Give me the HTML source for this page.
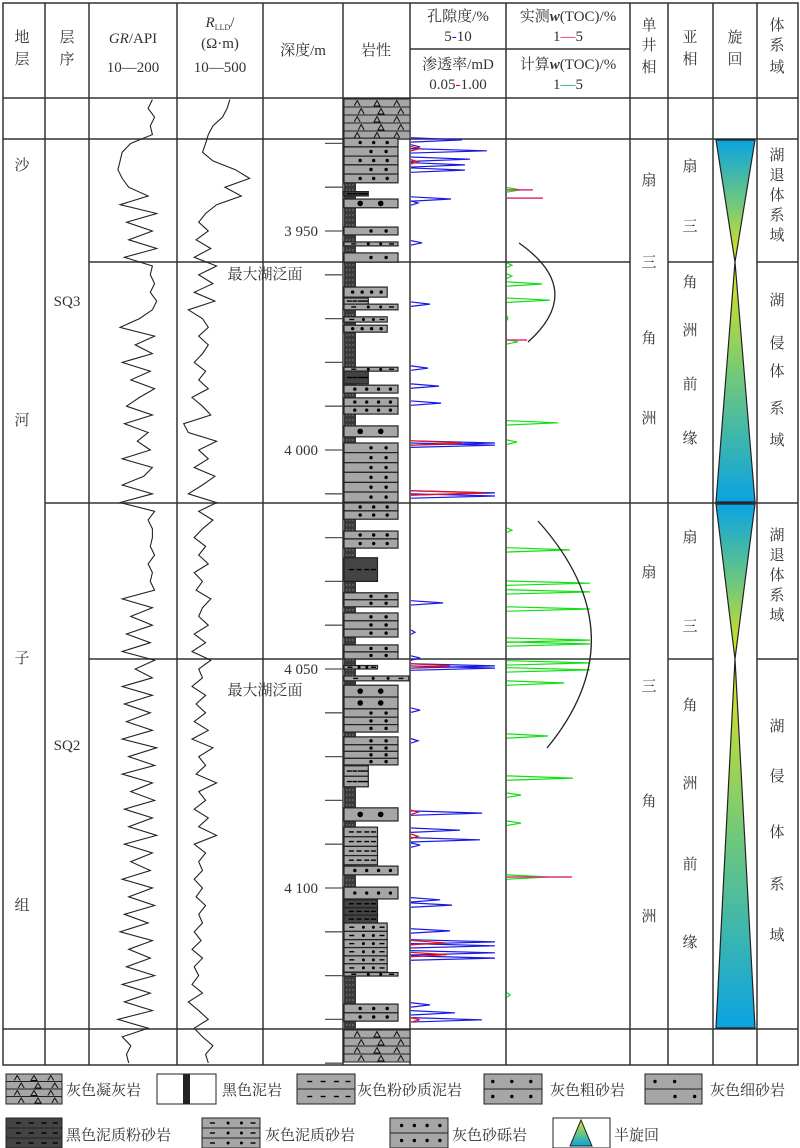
<!DOCTYPE html>
<html><head><meta charset="utf-8">
<style>
html,body{margin:0;padding:0;background:#fff;}
svg{display:block;}
text{font-family:"Liberation Serif","Noto Serif CJK SC",serif;fill:#333;}
</style></head>
<body>
<svg id="fig" width="800" height="1148" viewBox="0 0 800 1148" xmlns="http://www.w3.org/2000/svg">
<defs>
<linearGradient id="gDown" x1="0" y1="0" x2="0" y2="1">
<stop offset="0" stop-color="#0aa3e2"/><stop offset="0.5" stop-color="#6cc77f"/><stop offset="1" stop-color="#e2e41a"/>
</linearGradient>
<linearGradient id="gUp" x1="0" y1="1" x2="0" y2="0">
<stop offset="0" stop-color="#0aa3e2"/><stop offset="0.5" stop-color="#6cc77f"/><stop offset="1" stop-color="#e2e41a"/>
</linearGradient>
</defs>
<g id="grid" stroke="#333" stroke-width="1.5" fill="none">
<rect x="3" y="3" width="795" height="1062"/>
<line x1="45" y1="3" x2="45" y2="1065"/><line x1="89" y1="3" x2="89" y2="1065"/>
<line x1="177" y1="3" x2="177" y2="1065"/><line x1="263" y1="3" x2="263" y2="1065"/>
<line x1="343" y1="3" x2="343" y2="1065"/><line x1="410" y1="3" x2="410" y2="1065"/>
<line x1="506" y1="3" x2="506" y2="1065"/><line x1="630" y1="3" x2="630" y2="1065"/>
<line x1="668" y1="3" x2="668" y2="1065"/><line x1="713" y1="3" x2="713" y2="1065"/>
<line x1="757" y1="3" x2="757" y2="1065"/>
<line x1="410" y1="49" x2="630" y2="49"/>
<line x1="3" y1="98" x2="798" y2="98"/><line x1="3" y1="139" x2="798" y2="139"/>
<line x1="89" y1="262" x2="630" y2="262"/><line x1="668" y1="262" x2="713" y2="262"/><line x1="757" y1="262" x2="798" y2="262"/>
<line x1="45" y1="503" x2="798" y2="503"/>
<line x1="89" y1="659" x2="630" y2="659"/><line x1="668" y1="659" x2="713" y2="659"/><line x1="757" y1="659" x2="798" y2="659"/>
<line x1="3" y1="1029" x2="798" y2="1029"/>
</g>
<g font-size="15">
<text x="22" y="42" text-anchor="middle">地</text>
<text x="22" y="64" text-anchor="middle">层</text>
<text x="67" y="42" text-anchor="middle">层</text>
<text x="67" y="64" text-anchor="middle">序</text>
<text x="133" y="43" text-anchor="middle"><tspan font-style="italic">GR</tspan>/API</text>
<text x="133" y="72" text-anchor="middle">10—200</text>
<text x="220" y="27" text-anchor="middle"><tspan font-style="italic">R</tspan><tspan font-size="8" dy="3">LLD</tspan><tspan dy="-3">/</tspan></text>
<text x="220" y="48" text-anchor="middle">(Ω·m)</text>
<text x="220" y="72" text-anchor="middle">10—500</text>
<text x="303" y="55" text-anchor="middle">深度/m</text>
<text x="376" y="55" text-anchor="middle">岩性</text>
<text x="458" y="21" text-anchor="middle">孔隙度/%</text>
<text x="458" y="41" text-anchor="middle">5<tspan fill="#1a1aff">-</tspan>10</text>
<text x="458" y="69" text-anchor="middle">渗透率/mD</text>
<text x="458" y="89" text-anchor="middle">0.05<tspan fill="#f00">-</tspan>1.00</text>
<text x="568" y="21" text-anchor="middle">实测<tspan font-style="italic" font-weight="bold">w</tspan>(TOC)/%</text>
<text x="568" y="41" text-anchor="middle">1<tspan fill="#e0107a">—</tspan>5</text>
<text x="568" y="69" text-anchor="middle">计算<tspan font-style="italic" font-weight="bold">w</tspan>(TOC)/%</text>
<text x="568" y="89" text-anchor="middle">1<tspan fill="#10a050">—</tspan>5</text>
<text x="649" y="30" text-anchor="middle">单</text>
<text x="649" y="50" text-anchor="middle">井</text>
<text x="649" y="72" text-anchor="middle">相</text>
<text x="690" y="42" text-anchor="middle">亚</text>
<text x="690" y="64" text-anchor="middle">相</text>
<text x="735" y="42" text-anchor="middle">旋</text>
<text x="735" y="64" text-anchor="middle">回</text>
<text x="777" y="30" text-anchor="middle">体</text>
<text x="777" y="50" text-anchor="middle">系</text>
<text x="777" y="72" text-anchor="middle">域</text>
</g>
<g font-size="15">
<text x="22" y="170" text-anchor="middle">沙</text>
<text x="22" y="425" text-anchor="middle">河</text>
<text x="22" y="663" text-anchor="middle">子</text>
<text x="22" y="910" text-anchor="middle">组</text>
<text x="67" y="306" text-anchor="middle">SQ3</text>
<text x="67" y="750" text-anchor="middle">SQ2</text>
<text x="649" y="185" text-anchor="middle">扇</text>
<text x="649" y="267" text-anchor="middle">三</text>
<text x="649" y="343" text-anchor="middle">角</text>
<text x="649" y="423" text-anchor="middle">洲</text>
<text x="649" y="577" text-anchor="middle">扇</text>
<text x="649" y="691" text-anchor="middle">三</text>
<text x="649" y="806" text-anchor="middle">角</text>
<text x="649" y="921" text-anchor="middle">洲</text>
<text x="690" y="171" text-anchor="middle">扇</text>
<text x="690" y="231" text-anchor="middle">三</text>
<text x="690" y="287" text-anchor="middle">角</text>
<text x="690" y="335" text-anchor="middle">洲</text>
<text x="690" y="389" text-anchor="middle">前</text>
<text x="690" y="443" text-anchor="middle">缘</text>
<text x="690" y="542" text-anchor="middle">扇</text>
<text x="690" y="631" text-anchor="middle">三</text>
<text x="690" y="710" text-anchor="middle">角</text>
<text x="690" y="788" text-anchor="middle">洲</text>
<text x="690" y="869" text-anchor="middle">前</text>
<text x="690" y="947" text-anchor="middle">缘</text>
<text x="777" y="160" text-anchor="middle">湖</text>
<text x="777" y="180" text-anchor="middle">退</text>
<text x="777" y="200" text-anchor="middle">体</text>
<text x="777" y="220" text-anchor="middle">系</text>
<text x="777" y="240" text-anchor="middle">域</text>
<text x="777" y="305" text-anchor="middle">湖</text>
<text x="777" y="348" text-anchor="middle">侵</text>
<text x="777" y="376" text-anchor="middle">体</text>
<text x="777" y="413" text-anchor="middle">系</text>
<text x="777" y="445" text-anchor="middle">域</text>
<text x="777" y="540" text-anchor="middle">湖</text>
<text x="777" y="560" text-anchor="middle">退</text>
<text x="777" y="580" text-anchor="middle">体</text>
<text x="777" y="600" text-anchor="middle">系</text>
<text x="777" y="620" text-anchor="middle">域</text>
<text x="777" y="731" text-anchor="middle">湖</text>
<text x="777" y="781" text-anchor="middle">侵</text>
<text x="777" y="837" text-anchor="middle">体</text>
<text x="777" y="889" text-anchor="middle">系</text>
<text x="777" y="940" text-anchor="middle">域</text>
<text x="265" y="279" text-anchor="middle">最大湖泛面</text>
<text x="265" y="695" text-anchor="middle">最大湖泛面</text>
</g>
<g stroke="#222" stroke-width="1.2">
<polygon points="716,140 755,140 735,262" fill="url(#gDown)"/>
<polygon points="735,262 716,502 755,502" fill="url(#gUp)"/>
<polygon points="716,504 755,504 735,659" fill="url(#gDown)"/>
<polygon points="735,659 716,1028 755,1028" fill="url(#gUp)"/>
</g>
<g id="plot"></g>
<g id="legend" font-size="15"></g>
</svg>
<script>
// ---------- data ----------
const depthStart = 3920;
const depthStep = 2;
const grValues = [150,140,155,145,150,100,80,75,70,80,
 95,140,75,160,90,150,95,160,85,150,
 145,155,145,160,150,120,75,155,110,150,
 80,145,100,155,120,90,150,85,140,115,
 145,80,150,130,80,150,75,155,140,150,
 150,145,155,140,150,145,155,80,150,100,
 150,90,145,80,155,110,150,80,150,85,
 145,90,150,80,160,95,155,80,150,100,
 155,85,150,95,160,85,150,100,145,80,
 150,95,155,85,140,75,150,95,145,90,
 155,80,145,85,150,70,140,80,100,90,95];
const rllValues = [115,100,80,50,40,35,30,50,150,300,
 90,200,60,35,25,40,22,45,20,60,
 25,50,20,55,15,30,40,25,40,30,
 20,35,25,40,18,30,45,12,15,60,
 25,40,20,55,30,15,60,25,50,30,
 20,35,25,40,20,30,22,45,30,25,
 40,20,35,18,45,25,30,18,35,22,
 35,20,40,18,50,25,35,22,60,25,
 35,20,40,25,60,20,35,25,30,20,
 30,22,35,25,30,20,28,18,30,20,
 25,18,30,15,25,40,20,30,50,35,40];
const porDepths = [3929.2,3930.8,3931.7,3933.6,3934.9,3936.1,3942.7,3943.6,3952.7,3966.7,3981.3,3985.4,3989.3,3998.4,3998.9,4009.8,4010.5,4034.9,4041.6,4047.5,4049.3,4049.8,4059.4,4066.4,4082.9,4086.8,4089.0,4090.2,4102.7,4103.9,4109.8,4112.3,4113.2,4114.8,4116.0,4126.7,4128.5,4130.1];
const porValues = [7.98,5.48,9.46,8.45,8.15,8.15,7.32,5.36,5.6,6.07,5.95,6.61,6.73,9.94,9.94,9.94,9.94,6.85,5.18,5.48,9.94,9.94,5.48,5.36,9.17,7.86,9.05,5.48,6.67,7.38,7.26,9.94,9.94,9.94,9.94,6.07,7.56,9.17];
const permDepths = [3931.2,3934.2,3998.4,4009.8,4049.3,4082.7,4088.2,4112.5,4115.2,4130.1];
const permValues = [0.066,0.062,0.297,0.68,0.194,0.062,0.062,0.162,0.174,0.066];
const tocCalcDepths = [3940.6,3957.8,3960.3,3962.1,3965.8,3969.9,3975.3,3993.8,3998.2,4018.3,4022.8,4030.4,4032.4,4036.3,4043.4,4044.3,4048.6,4050.2,4053.2,4065.3,4074.9,4078.8,4085.2,4097.5,4124.4];
const tocCalcValues = [1.46,1.16,1.16,2.15,2.41,1.03,1.36,2.67,1.33,1.16,3.06,3.72,3.72,3.72,3.72,3.72,3.72,3.72,2.88,2.34,3.16,1.46,1.46,2.34,1.1];
const tocMeasDepths = [3940.6,3942.5,3974.9,4097.5];
const tocMeasValues = [1.85,2.18,1.66,3.13];
const tickDepths = [3930,3940,3950,3960,3970,3980,3990,4000,4010,4020,4030,4040,4050,4060,4070,4080,4090,4100,4110,4120,4130,4140];
const depthLabels = [[3950,"3 950"],[4000,"4 000"],[4050,"4 050"],[4100,"4 100"]];
const layerTops = [3928.8,3930.8,3932.9,3934.9,3937.0,3941.0,3942.7,3949.1,3952.5,3955.0,3962.8,3965.3,3966.7,3969.6,3971.5,3981.1,3982.0,3985.2,3988.1,3990.0,3994.5,3998.4,4000.6,4002.9,4005.1,4007.4,4009.6,4012.1,4013.9,4018.5,4020.3,4024.6,4032.6,4034.2,4037.2,4039.0,4040.9,4044.5,4046.1,4049.2,4051.6,4053.7,4056.4,4059.1,4061.0,4062.7,4065.5,4067.3,4068.8,4070.4,4072.1,4074.5,4081.7,4086.1,4088.3,4090.5,4092.6,4095.0,4099.8,4102.7,4104.5,4106.2,4108.0,4109.9,4111.8,4113.6,4115.5,4117.3,4119.3,4126.5,4128.5];
const layerBottoms = [3930.8,3932.9,3934.9,3937.0,3939.0,3942.0,3944.7,3950.9,3953.4,3957.1,3965.1,3966.7,3968.0,3970.8,3973.1,3982.0,3984.9,3987.0,3990.0,3991.8,3997.0,4000.6,4002.9,4005.1,4007.4,4009.6,4011.9,4013.9,4015.8,4020.3,4022.4,4030.0,4034.2,4035.8,4039.0,4040.9,4042.7,4046.1,4047.7,4050.0,4052.7,4056.4,4059.1,4061.0,4062.7,4064.4,4067.3,4068.8,4070.4,4071.9,4074.5,4076.9,4084.7,4088.3,4090.5,4092.6,4094.7,4097.0,4102.5,4104.5,4106.2,4108.0,4109.9,4111.8,4113.6,4115.5,4117.3,4119.2,4120.1,4128.5,4130.4];
const layerTypes = ["cs","fs","cs","fs","cs","dm","pb","fs","ms","fs","gr","sm","ms","ms","gr","ms","dm","gr","gr","gr","pb","fs","fs","fs","fs","fs","fs","cs","cs","cs","cs","dm","fs","fs","fs","fs","fs","fs","fs","ms","ms","pb","pb","fs","fs","fs","fs","fs","fs","fs","sm","sm","pb","sm","sm","sm","sm","gr","gr","dm","dm","dm","ms","ms","ms","ms","ms","ms","ms","cs","cs"];
const layerWidths = [1,1,1,1,1,0.45,1,1,1,1,0.8,0.45,1,0.8,0.8,1,0.45,1,1,1,1,1,1,1,1,1,1,1,1,1,1,0.62,1,1,1,1,1,1,1,0.62,1.2,1,1,1,1,1,1,1,1,1,0.45,0.45,1,0.62,0.62,0.62,0.62,1,1,0.62,0.62,0.62,0.8,0.8,0.8,0.8,0.8,0.8,1,1,1];

// ---------- scales ----------
const yD = d => 231 + (d - 3950) * 4.38;
const xGR = v => 92 + (v - 10) / 190 * 82;
const xR = v => 180 + Math.log10(v / 10) / Math.log10(50) * 80;
const xPor = v => 412 + (v - 5) / 5 * 84;
const xPerm = v => 412 + Math.log(v / 0.05) / Math.log(20) * 84;
const xTOC = v => 507 + (v - 1) / 4 * 122;

const NS = "http://www.w3.org/2000/svg";
const plot = document.getElementById("plot");
function mk(tag, attrs, parent) {
  const e = document.createElementNS(NS, tag);
  for (const k in attrs) e.setAttribute(k, attrs[k]);
  (parent || plot).appendChild(e);
  return e;
}
const clampY = y => Math.max(99, Math.min(1063, y));

// GR curve
let pts = grValues.map((v, i) => xGR(v).toFixed(1) + "," + clampY(yD(depthStart + i * depthStep)).toFixed(1)).join(" ");
const gr = mk("polyline", {points: pts, fill: "none", stroke: "#222", "stroke-width": 1.1});


pts = rllValues.map((v, i) => xR(v).toFixed(1) + "," + clampY(yD(depthStart + i * depthStep)).toFixed(1)).join(" ");
const rl = mk("polyline", {points: pts, fill: "none", stroke: "#222", "stroke-width": 1.1});



// depth ticks
tickDepths.forEach(d => {
  const t = mk("line", {x1: 325, x2: 343, y1: yD(d), y2: yD(d), stroke: "#555", "stroke-width": 1.3});
  
  
});
depthLabels.forEach(l => {
  const t = mk("text", {x: 318, y: yD(l[0]) + 5, "text-anchor": "end", "font-size": 15});
  t.textContent = l[1];
  
  
});

// lithology
const lith = mk("g", {});


function tuff(x, y, w, h, parent) {
  mk("rect", {x: x, y: y, width: w, height: h, fill: "#a6a6a6", stroke: "#222", "stroke-width": 1}, parent);
  const rows = Math.round(h / 8);
  for (let r = 0; r < rows; r++) {
    const yy = y + r * h / rows;
    mk("line", {x1: x, x2: x + w, y1: yy, y2: yy, stroke: "#222", "stroke-width": 1}, parent);
    for (let c = 0; c < 3; c++) {
      const cx = x + w * (0.2 + c * 0.3) + (r % 2 ? 4 : 0);
      mk("path", {d: `M${cx - 3},${yy + h / rows - 1} L${cx},${yy + 1.5} L${cx + 3},${yy + h / rows - 1}` + (c === 1 ? " Z" : ""), fill: "none", stroke: "#111", "stroke-width": 1}, parent);
    }
  }
}
const tTop = mk("g", {}, lith);


tuff(344, 99, 66, 40, tTop);
const tBot = mk("g", {}, lith);


tuff(344, 1030, 66, 32, tBot);
const mud = mk("rect", {x: 344, y: 140, width: 12, height: 889, fill: "#3a3a3a"}, lith);


for (let y = 145; y < 1028; y += 5) {
  mk("line", {x1: 346, x2: 354, y1: y, y2: y, stroke: "#888", "stroke-width": 1, "stroke-dasharray": "1.5,1.5"}, lith);
}
function layerPattern(type, x, y, w, h, g) {
  const my = y + h / 2;
  const dot = (cx, r) => mk("circle", {cx: cx, cy: my, r: r, fill: "#000"}, g);
  const dash = (cx) => mk("line", {x1: cx - 2.5, x2: cx + 2.5, y1: my, y2: my, stroke: "#000", "stroke-width": 1.4}, g);
  if (type === "cs") { dot(x + w * 0.3, 1.7); dot(x + w * 0.55, 1.7); dot(x + w * 0.8, 1.7); }
  else if (type === "fs") { dot(x + w * 0.5, 1.7); dot(x + w * 0.78, 1.7); }
  else if (type === "pb") { dot(x + w * 0.3, 2.8); dot(x + w * 0.68, 2.8); }
  else if (type === "gr") { dot(x + w * 0.2, 1.7); dot(x + w * 0.42, 1.7); dot(x + w * 0.64, 1.7); dot(x + w * 0.86, 1.7); }
  else if (type === "ms") { dash(x + w * 0.18); dot(x + w * 0.45, 1.5); dot(x + w * 0.68, 1.5); dash(x + w * 0.88); }
  else if (type === "sm" || type === "dm") { dash(x + w * 0.22); dash(x + w * 0.45); dash(x + w * 0.68); dash(x + w * 0.88); }
}
layerTops.forEach((top, i) => {
  const y1 = yD(top), y2 = yD(layerBottoms[i]);
  const w = 54 * layerWidths[i];
  const g = mk("g", {}, lith);
  
  
  const t = layerTypes[i];
  mk("rect", {x: 344, y: y1, width: Math.min(w, 66), height: Math.max(y2 - y1, 2), fill: t === "dm" ? "#444" : "#a6a6a6", stroke: "#222", "stroke-width": 1.2}, g);
  layerPattern(t, 344, y1, Math.min(w, 66), y2 - y1, g);
});

// porosity / permeability spikes
function spike(x0, xp, y, color, name) {
  const s = mk("path", {d: `M${x0},${y - 2.2} L${xp.toFixed(1)},${y.toFixed(1)} L${x0},${y + 2.2}`, fill: "none", stroke: color, "stroke-width": 1.2});
  
  
}
porDepths.forEach((d, i) => spike(411, xPor(porValues[i]), yD(d), "#1a1ae6", "porosity-spike"));
permDepths.forEach((d, i) => spike(411, xPerm(permValues[i]), yD(d), "#ee1111", "permeability-spike"));
tocCalcDepths.forEach((d, i) => spike(507, xTOC(tocCalcValues[i]), yD(d), "#11e011", "toc-calculated-spike"));
tocMeasDepths.forEach((d, i) => {
  const s = mk("line", {x1: 507, x2: xTOC(tocMeasValues[i]), y1: yD(d), y2: yD(d), stroke: "#e0307a", "stroke-width": 1.5});
  
  
});

// interpretation arcs
const a1 = mk("path", {d: "M519,243 Q586,290 528,342", fill: "none", stroke: "#222", "stroke-width": 1.3});


const a2 = mk("path", {d: "M538,521 Q640,635 547,748", fill: "none", stroke: "#222", "stroke-width": 1.3});



// legend
const lg = document.getElementById("legend");


function legendBox(x, y, w, h) {
  const g = mk("g", {}, lg);
  
  
  return g;
}
function legendText(x, y, s) {
  const t = mk("text", {x: x, y: y}, lg);
  t.textContent = s;
  
  
}
let g;
g = legendBox(); tuff(6, 1074, 56, 30, g); legendText(66, 1095, "灰色凝灰岩");
g = legendBox(); mk("rect", {x: 157, y: 1074, width: 59, height: 30, fill: "#fff", stroke: "#222", "stroke-width": 1}, g);
mk("rect", {x: 183, y: 1074, width: 7, height: 30, fill: "#222"}, g); legendText(222, 1095, "黑色泥岩");
g = legendBox(); mk("rect", {x: 297, y: 1074, width: 58, height: 15, fill: "#a6a6a6", stroke: "#222"}, g); mk("rect", {x: 297, y: 1089, width: 58, height: 15, fill: "#a6a6a6", stroke: "#222"}, g);
layerPattern("sm", 297, 1074, 58, 15, g); layerPattern("sm", 297, 1089, 58, 15, g); legendText(357, 1095, "灰色粉砂质泥岩");
g = legendBox(); mk("rect", {x: 484, y: 1074, width: 58, height: 15, fill: "#a6a6a6", stroke: "#222"}, g); mk("rect", {x: 484, y: 1089, width: 58, height: 15, fill: "#a6a6a6", stroke: "#222"}, g);
layerPattern("cs", 470, 1074, 76, 15, g); layerPattern("cs", 470, 1089, 76, 15, g); legendText(550, 1095, "灰色粗砂岩");
g = legendBox(); mk("rect", {x: 645, y: 1074, width: 57, height: 15, fill: "#a6a6a6", stroke: "#222"}, g); mk("rect", {x: 645, y: 1089, width: 57, height: 15, fill: "#a6a6a6", stroke: "#222"}, g);
layerPattern("fs", 620, 1074, 70, 15, g); layerPattern("fs", 640, 1089, 70, 15, g); legendText(710, 1095, "灰色细砂岩");
g = legendBox(); for (let k = 0; k < 3; k++) { mk("rect", {x: 6, y: 1118 + k * 10, width: 56, height: 10, fill: "#444", stroke: "#222"}, g); layerPattern("dm", 6, 1118 + k * 10, 56, 10, g); }
legendText(66, 1140, "黑色泥质粉砂岩");
g = legendBox(); for (let k = 0; k < 3; k++) { mk("rect", {x: 202, y: 1118 + k * 10, width: 58, height: 10, fill: "#a6a6a6", stroke: "#222"}, g); layerPattern("ms", 202, 1118 + k * 10, 58, 10, g); }
legendText(265, 1140, "灰色泥质砂岩");
g = legendBox(); mk("rect", {x: 390, y: 1118, width: 58, height: 15, fill: "#a6a6a6", stroke: "#222"}, g); mk("rect", {x: 390, y: 1133, width: 58, height: 15, fill: "#a6a6a6", stroke: "#222"}, g);
layerPattern("gr", 390, 1118, 58, 15, g); layerPattern("gr", 390, 1133, 58, 15, g); legendText(452, 1140, "灰色砂砾岩");
g = legendBox(); mk("rect", {x: 553, y: 1118, width: 57, height: 30, fill: "#fff", stroke: "#222"}, g);
mk("polygon", {points: "581,1120 570,1146 592,1146", fill: "url(#gUp)", stroke: "#222"}, g);
legendText(614, 1140, "半旋回");
</script>
</body></html>
